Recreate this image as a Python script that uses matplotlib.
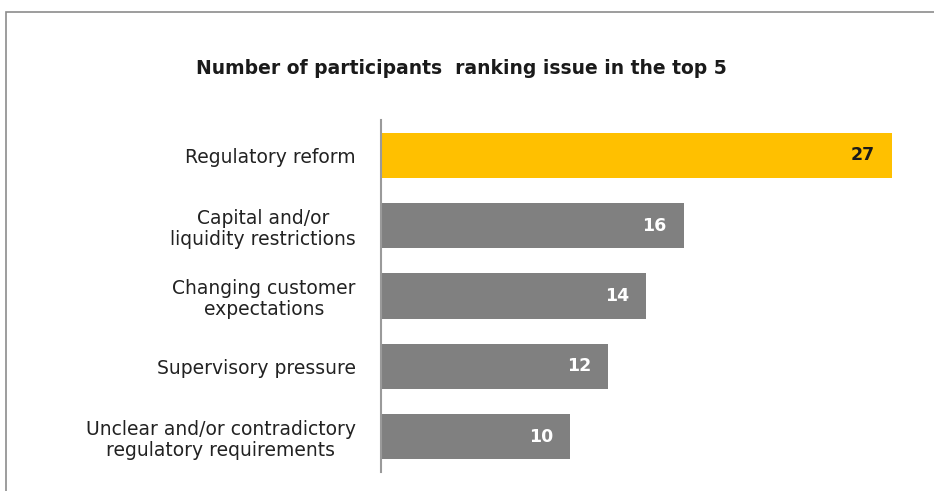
import matplotlib
matplotlib.use("Agg")
import matplotlib.pyplot as plt
from matplotlib.patches import Rectangle

# data, top to bottom
issues = ["Regulatory reform",
          "Capital and/or\nliquidity restrictions",
          "Changing customer\nexpectations",
          "Supervisory pressure",
          "Unclear and/or contradictory\nregulatory requirements"]
counts = [27, 16, 14, 12, 10]
colours = ["#FFC000", "#808080", "#808080", "#808080", "#808080"]
label_colours = ["#1a1a1a", "white", "white", "white", "white"]

fig = plt.figure(figsize=(9.34, 4.91), dpi=100)
fig.patch.set_facecolor("white")

# outer frame (top and left edges visible, the rest runs off the picture)
fig.add_artist(Rectangle((6 / 934, -0.1), 1.2, (1 - 12 / 491) + 0.1,
                         transform=fig.transFigure, fill=False,
                         edgecolor="#8c8c8c", linewidth=1.2))

ax = fig.add_axes([381 / 934, 1 - 472 / 491, (892 - 381) / 934, (472 - 120) / 491])
ypos = list(range(len(issues)))
ax.barh(ypos, counts, height=0.64, color=colours, zorder=2)
ax.set_xlim(0, 27)
ax.set_ylim(len(issues) - 0.5, -0.5)

for y, v, c in zip(ypos, counts, label_colours):
    ax.text(v - 0.9, y, str(v), ha="right", va="center", fontsize=12.5,
            fontweight="bold", color=c, zorder=3)

ax.set_yticks(ypos)
ax.set_yticklabels(issues, fontsize=13.5, color="#222222",
                   multialignment="center", linespacing=1.15)
ax.tick_params(axis="y", length=0, pad=18)
ax.set_xticks([])
for s in ["top", "right", "bottom"]:
    ax.spines[s].set_visible(False)
ax.spines["left"].set_color("#9a9a9a")
ax.spines["left"].set_linewidth(1.5)

fig.text(461 / 934, 1 - 68 / 491, "Number of participants  ranking issue in the top 5",
         ha="center", va="center", fontsize=13.5, fontweight="bold", color="#1a1a1a")

fig.savefig("out.png", dpi=100)
